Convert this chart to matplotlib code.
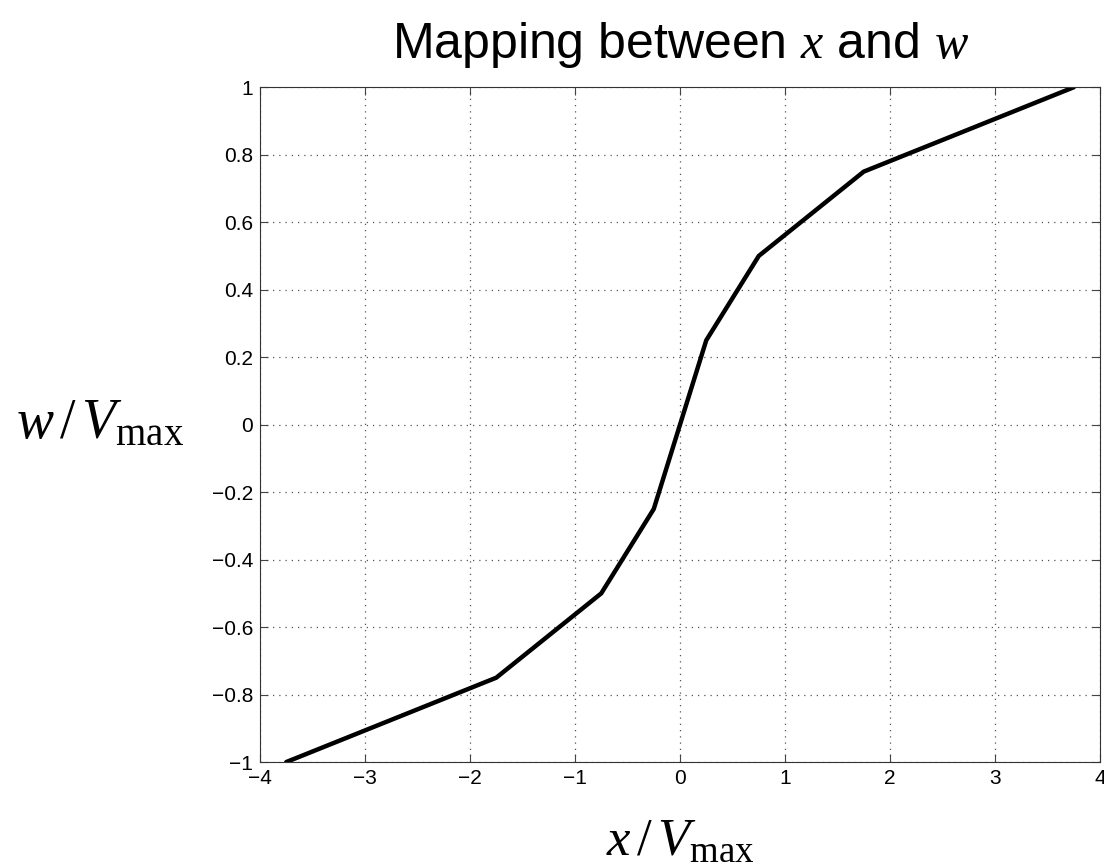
import matplotlib
matplotlib.use('Agg')
import matplotlib.pyplot as plt

# Piecewise-linear mapping points
x_vals = [-3.75, -1.75, -0.75, -0.25, 0.0, 0.25, 0.75, 1.75, 3.75]
w_vals = [-1.0, -0.75, -0.5, -0.25, 0.0, 0.25, 0.5, 0.75, 1.0]

x_ticks = [-4, -3, -2, -1, 0, 1, 2, 3, 4]
y_ticks = [-1, -0.8, -0.6, -0.4, -0.2, 0, 0.2, 0.4, 0.6, 0.8, 1]
x_ticklabels = ['\u22124', '\u22123', '\u22122', '\u22121', '0', '1', '2', '3', '4']
y_ticklabels = ['\u22121', '\u22120.8', '\u22120.6', '\u22120.4', '\u22120.2', '0',
                '0.2', '0.4', '0.6', '0.8', '1']

plt.rcParams['font.family'] = ['Liberation Sans', 'DejaVu Sans']
plt.rcParams['mathtext.fontset'] = 'custom'
plt.rcParams['mathtext.rm'] = 'Liberation Serif'
plt.rcParams['mathtext.it'] = 'Liberation Serif:italic'

fig = plt.figure(figsize=(11.04, 8.64), dpi=100)
ax = fig.add_axes([0.2355, 0.118, 0.7609, 0.781])

ax.plot(x_vals, w_vals, color='black', linewidth=3.2, solid_capstyle='round')

ax.set_xlim(-4, 4)
ax.set_ylim(-1, 1)
ax.set_xticks(x_ticks)
ax.set_yticks(y_ticks)
ax.set_xticklabels(x_ticklabels)
ax.set_yticklabels(y_ticklabels)
ax.tick_params(direction='in', length=6, width=0.8, labelsize=15, color='#444444',
               top=True, right=True, pad=5)

ax.grid(True, linestyle=(0, (1, 4)), color='#555555', linewidth=0.9)
for s in ax.spines.values():
    s.set_color('#333333')
    s.set_linewidth(0.8)

ax.set_title(r'Mapping between $x$ and $w$', fontsize=36, pad=21)
ax.set_xlabel(r'$x\,/\,V_{\mathrm{max}}$', fontsize=38, labelpad=20)
ax.set_ylabel(r'$w\,/\,V_{\mathrm{max}}$', fontsize=40, rotation=0, labelpad=20,
              va='center', ha='right')

fig.savefig('out.png', dpi=100)
